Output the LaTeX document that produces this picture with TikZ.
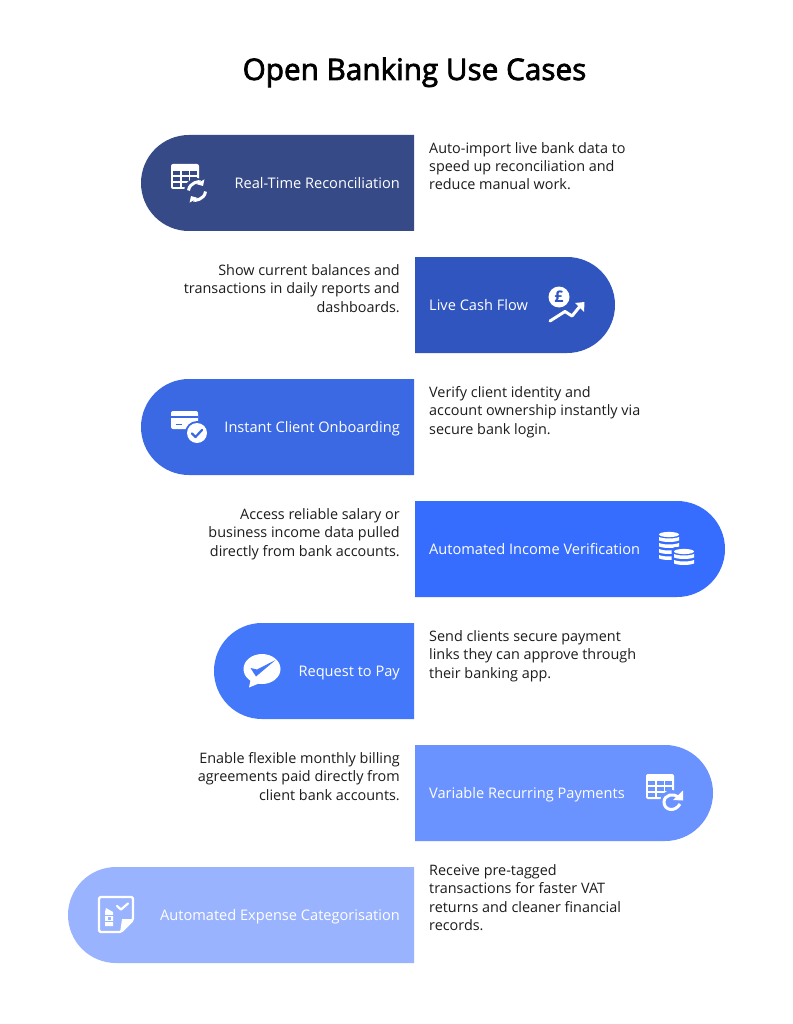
\documentclass[tikz,border=0pt]{standalone}
\usepackage{fontspec}
\setmainfont{Open Sans}
\newfontfamily\titlefont[FakeBold=2.5]{Open Sans}
\usetikzlibrary{arrows.meta}

\definecolor{pillone}{HTML}{364A87}
\definecolor{pilltwo}{HTML}{3055BF}
\definecolor{pillthree}{HTML}{3B69E3}
\definecolor{pillfour}{HTML}{376DFF}
\definecolor{pillfive}{HTML}{4478FA}
\definecolor{pillsix}{HTML}{6B93FF}
\definecolor{pillseven}{HTML}{9AB3FF}
\definecolor{bodyink}{HTML}{1C1C1C}

\tikzset{
    pilllabel/.style={white, inner sep=0pt, font=\fontsize{14.6}{18}\selectfont},
    desctext/.style={bodyink, inner sep=0pt, font=\fontsize{14.4}{18.3}\selectfont},
}

% left end round, right end square
\newcommand{\pillleft}[3]{\fill[#3] (414, #2) {[rounded corners=48pt] -- (#1, #2) -- (#1, #2+96)} -- (414, #2+96) -- cycle;}
% left end square, right end round
\newcommand{\pillright}[3]{\fill[#3] (415, #2) {[rounded corners=48pt] -- (#1, #2) -- (#1, #2+96)} -- (415, #2+96) -- cycle;}
% grid icon, #1 #2 is the top left corner, #3 the pill colour
\newcommand{\gridicon}[3]{
    \begin{scope}[shift={(#1, #2)}]
        \fill[white, rounded corners=2pt] (0, 0) rectangle (28, 25);
        \fill[#3] (2, 7) rectangle (26, 23);
        \draw[white, line width=1.5pt] (2, 12) -- (26, 12);
        \draw[white, line width=1.5pt] (2, 18) -- (26, 18);
        \draw[white, line width=1.5pt] (10, 7) -- (10, 23);
        \draw[white, line width=1.5pt] (18.5, 7) -- (18.5, 23);
    \end{scope}
}
% one coin seen from the side, #1 #2 is its top left corner, #3 its width
\newcommand{\coinband}[3]{\fill[white] (#1, #2) .. controls (#1+#3/4, #2+2) and (#1+#3*3/4, #2+2) .. (#1+#3, #2) -- (#1+#3, #2+3.5) .. controls (#1+#3*3/4, #2+5.5) and (#1+#3/4, #2+5.5) .. (#1, #2+3.5) -- cycle;}

\begin{document}
\begin{tikzpicture}[x=1pt, y=-1pt]
    \useasboundingbox (0, 0) rectangle (792, 1024);
    \fill[white] (0, 0) rectangle (792, 1024);

    \node[black, inner sep=0pt, anchor=base, font=\titlefont\fontsize{29.7}{36}\selectfont] (titlenode) at (414.5, 80) {Open Banking Use Cases};

    % pills
    \pillleft{141}{135}{pillone}
    \pillright{615}{257}{pilltwo}
    \pillleft{141}{379}{pillthree}
    \pillright{725}{501}{pillfour}
    \pillleft{214}{623}{pillfive}
    \pillright{713}{745}{pillsix}
    \pillleft{68}{867}{pillseven}

    % pill labels
    \node[pilllabel, anchor=base east] (reconlabel) at (400, 188.5) {Real-Time Reconciliation};
    \node[pilllabel, anchor=base west] (cashlabel) at (429, 310.5) {Live Cash Flow};
    \node[pilllabel, anchor=base east] (onboardlabel) at (400, 432.5) {Instant Client Onboarding};
    \node[pilllabel, anchor=base west] (incomelabel) at (429, 554.5) {Automated Income Verification};
    \node[pilllabel, anchor=base east] (paylabel) at (400, 676.5) {Request to Pay};
    \node[pilllabel, anchor=base west] (recurlabel) at (429, 798.5) {Variable Recurring Payments};
    \node[pilllabel, anchor=base east] (expenselabel) at (400, 920.5) {Automated Expense Categorisation};

    % descriptions
    \node[desctext, anchor=base west, align=left] (recontext) at (429, 190) {Auto-import live bank data to\\speed up reconciliation and\\reduce manual work.};
    \node[desctext, anchor=base east, align=right] (cashtext) at (400, 312) {Show current balances and\\transactions in daily reports and\\dashboards.};
    \node[desctext, anchor=base west, align=left] (onboardtext) at (429, 434) {Verify client identity and\\account ownership instantly via\\secure bank login.};
    \node[desctext, anchor=base east, align=right] (incometext) at (400, 556) {Access reliable salary or\\business income data pulled\\directly from bank accounts.};
    \node[desctext, anchor=base west, align=left] (paytext) at (429, 678) {Send clients secure payment\\links they can approve through\\their banking app.};
    \node[desctext, anchor=base east, align=right] (recurtext) at (400, 800) {Enable flexible monthly billing\\agreements paid directly from\\client bank accounts.};
    \node[desctext, anchor=base west, align=left] (expensetext) at (429, 930.5) {Receive pre-tagged\\transactions for faster VAT\\returns and cleaner financial\\records.};

    % grid with two way refresh
    \gridicon{171}{164}{pillone}
    \fill[pillone] (197, 191) circle[radius=13];
    \draw[white, line width=3pt, -{Triangle[length=5pt, width=9pt]}] (188.5, 190.5) .. controls (189.5, 182) and (200, 181) .. (203, 186);
    \draw[white, line width=3pt, -{Triangle[length=5pt, width=9pt]}] (205.5, 191.5) .. controls (204.5, 200) and (194, 201) .. (191, 196);

    % pound coin and rising arrow
    \fill[white] (559, 297) circle[radius=10.5];
    \node[pilltwo, inner sep=0pt, font=\fontsize{16}{16}\selectfont\bfseries] (poundmark) at (559, 297) {£};
    \draw[white, line width=3pt, line cap=round, line join=round] (550, 321) -- (565, 311.5) -- (572, 316) -- (581, 305);
    \fill[white] (575, 303) -- (584.5, 302) -- (584, 312) -- cycle;

    % card with check
    \fill[white, rounded corners=2pt] (171, 411) rectangle (198, 429);
    \fill[pillthree] (171, 415.5) rectangle (198, 418);
    \draw[pillthree, line width=1.5pt] (175.5, 424.5) -- (181.5, 424.5);
    \fill[pillthree] (197, 433) circle[radius=12];
    \fill[white] (197, 433) circle[radius=10];
    \draw[pillthree, line width=2.2pt, line cap=round, line join=round] (192, 433.5) -- (195.5, 437) -- (202, 430);

    % coin stacks
    \fill[white] (669, 534.5) ellipse[x radius=10, y radius=2.6];
    \coinband{659}{537}{20}
    \coinband{659}{543}{20}
    \coinband{659}{549}{20}
    \coinband{659}{555}{20}
    \fill[pillfour, rounded corners=4pt] (671.5, 547) rectangle (697, 569);
    \fill[white] (684, 551.5) ellipse[x radius=10, y radius=2.6];
    \coinband{674}{554}{20}
    \coinband{674}{560}{20}

    % speech bubble with check
    \fill[white] (262, 669) ellipse[x radius=18.5, y radius=15];
    \fill[white] (251, 678) -- (249, 687.5) -- (260, 683) -- cycle;
    \fill[pillfive] (250.5, 668) -- (256, 676.5) -- (275.5, 660) -- (257, 669.5) -- cycle;

    % grid with single refresh
    \gridicon{646}{774}{pillsix}
    \fill[pillsix] (672, 802) circle[radius=12];
    \draw[white, line width=3pt] (678.5, 798) .. controls (674, 792) and (664, 795) .. (664, 802) .. controls (664, 810.5) and (675, 812.5) .. (680, 804);
    \fill[white] (673, 800) -- (683, 800.5) -- (683, 790.5) -- cycle;

    % receipt sheet with check
    \draw[white, line width=2.2pt, line join=round, rounded corners=1.5pt] (99, 897) -- (133, 897) -- (133, 920) -- (121, 932) -- (99, 932) -- cycle;
    \fill[white] (133, 919) -- (122, 919) -- (120, 933) -- cycle;
    \fill[white] (106, 908) -- (113, 912) -- (113, 926) -- (105, 926) -- (105, 912) -- cycle;
    \draw[pillseven, line width=1pt] (105, 915) -- (114, 915);
    \draw[pillseven, line width=1pt] (105, 921) -- (114, 921);
    \fill[pillseven] (107.5, 917) rectangle (110.5, 919.5);
    \draw[white, line width=2.2pt, line cap=round, line join=round] (117, 906) -- (121, 909.5) -- (128, 903.5);
\end{tikzpicture}
\end{document}
